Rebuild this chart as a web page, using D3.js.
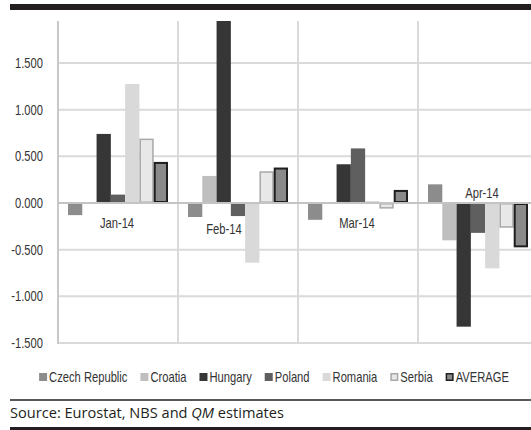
<!DOCTYPE html>
<html>
<head>
<meta charset="utf-8">
<script src="https://cdn.jsdelivr.net/npm/d3@7"></script>
<style>
  html, body { margin: 0; padding: 0; background: #fff; }
  svg { display: block; }
</style>
</head>
<body>
<svg id="chart" width="531" height="430"></svg>
<script>
const categories = ["Jan-14", "Feb-14", "Mar-14", "Apr-14"];
const seriesNames = ["Czech Republic", "Croatia", "Hungary", "Poland", "Romania", "Serbia", "AVERAGE"];
const czech   = [-0.13, -0.15, -0.18, 0.20];
const croatia = [0.00, 0.29, 0.00, -0.40];
const hungary = [0.74, 2.05, 0.415, -1.325];
const poland  = [0.09, -0.14, 0.585, -0.32];
const romania = [1.275, -0.64, 0.02, -0.70];
const serbia  = [0.69, 0.34, -0.06, -0.265];
const average = [0.44, 0.38, 0.14, -0.475];
const yTicks = [-1.5, -1.0, -0.5, 0.0, 0.5, 1.0, 1.5];
const sourceText = ["Source: Eurostat, NBS and ", "QM", " estimates"];

const seriesValues = [czech, croatia, hungary, poland, romania, serbia, average];
const fills   = ["#8c8c8c", "#bfbfbf", "#363636", "#5f5f5f", "#d9d9d9", "#e8e8e8", "#8a8a8a"];
const strokes = [null, null, null, null, null, "#a8a8a8", "#1e1e1e"];
const strokeW = [0, 0, 0, 0, 0, 1.5, 2];

const svg = d3.select("#chart");
const font = "'Liberation Sans', Arial, sans-serif";
const SX = 0.8;   // horizontal condensing of the label font
const FS = 14;

const plot = { left: 58, right: 538, top: 21, bottom: 343 };

const x0 = d3.scaleBand().domain(categories).range([plot.left, plot.right]).padding(0);
const x1 = d3.scaleBand().domain(seriesNames).range([10, x0.bandwidth() - 10]).padding(0);
const y = d3.scaleLinear().domain([-1.5, 1.95]).range([plot.bottom, plot.top]);

// top black band
svg.append("rect").attr("x", 10).attr("y", 4).attr("width", 531).attr("height", 6).attr("fill", "#231f20");

// clip
svg.append("defs").append("clipPath").attr("id", "clip")
  .append("rect").attr("x", plot.left).attr("y", plot.top)
  .attr("width", plot.right - plot.left).attr("height", plot.bottom - plot.top);

// horizontal gridlines
svg.append("g").selectAll("line").data(yTicks.filter(d => d !== 0)).join("line")
  .attr("x1", plot.left).attr("x2", plot.right)
  .attr("y1", d => y(d)).attr("y2", d => y(d))
  .attr("stroke", "#dadada").attr("stroke-width", 2);

// vertical category separators
svg.append("g").selectAll("line").data(categories.slice(1)).join("line")
  .attr("x1", d => x0(d)).attr("x2", d => x0(d))
  .attr("y1", plot.top).attr("y2", plot.bottom)
  .attr("stroke", "#dadada").attr("stroke-width", 2);

// left axis line
svg.append("line").attr("x1", plot.left).attr("x2", plot.left)
  .attr("y1", plot.top).attr("y2", plot.bottom + 1)
  .attr("stroke", "#c8c8c8").attr("stroke-width", 2);

// bars
const barsG = svg.append("g").attr("clip-path", "url(#clip)");
seriesNames.forEach((name, si) => {
  const sw = strokeW[si];
  barsG.append("g").selectAll("rect")
    .data(categories.map((c, ci) => ({ c, v: seriesValues[si][ci] })))
    .join("rect")
    .attr("x", d => x0(d.c) + x1(name) + sw / 2)
    .attr("width", x1.bandwidth() - sw)
    .attr("y", d => Math.min(y(d.v), y(0)) + sw / 2)
    .attr("height", d => Math.max(0, Math.abs(y(d.v) - y(0)) - sw))
    .attr("fill", fills[si])
    .attr("stroke", strokes[si] || "none")
    .attr("stroke-width", sw);
});

// zero line
svg.append("line").attr("x1", plot.left).attr("x2", plot.right)
  .attr("y1", y(0)).attr("y2", y(0))
  .attr("stroke", "#c4c4c4").attr("stroke-width", 2);

// condensed text groups
const cond = () => svg.append("g").attr("transform", `scale(${SX},1)`);

// y axis labels
const fmt = d => d3.format(".3f")(d).replace("−", "-");
cond().selectAll("text").data(yTicks).join("text")
  .attr("x", 43 / SX).attr("y", d => y(d)).attr("dy", "0.35em")
  .attr("text-anchor", "end")
  .attr("font-family", font).attr("font-size", FS).attr("fill", "#333")
  .text(fmt);

// category labels (placed near the zero line, as in the original)
const labelDx = [-1, -14, -1, 4];
const labelDy = [20, 26, 20, -10];
cond().selectAll("text").data(categories).join("text")
  .attr("x", (d, i) => (x0(d) + x0.bandwidth() / 2 + labelDx[i]) / SX)
  .attr("y", (d, i) => y(0) + labelDy[i]).attr("dy", "0.35em")
  .attr("text-anchor", "middle")
  .attr("font-family", font).attr("font-size", FS).attr("fill", "#333")
  .text(d => d);

// legend
const legendOuter = svg.append("g");
const legend = legendOuter.append("g");
const GAP = 13;
let lx = 0;
const ly = 377;
seriesNames.forEach((name, si) => {
  const sw = strokeW[si] ? Math.min(strokeW[si], 1.5) : 0;
  legend.append("rect")
    .attr("x", lx + sw / 2).attr("y", ly - 4 + sw / 2)
    .attr("width", 8 - sw).attr("height", 8 - sw)
    .attr("fill", fills[si])
    .attr("stroke", strokes[si] || "none").attr("stroke-width", sw);
  const t = legend.append("text")
    .attr("transform", `translate(${lx + 10},${ly}) scale(${SX},1)`)
    .attr("dy", "0.35em")
    .attr("font-family", font).attr("font-size", FS).attr("fill", "#333")
    .text(name);
  lx += 10 + t.node().getComputedTextLength() * SX + GAP;
});
const legendW = lx - GAP;
legendOuter.attr("transform", `translate(${274 - legendW / 2},0)`);

// rule under legend
svg.append("line").attr("x1", 10).attr("x2", 531).attr("y1", 400).attr("y2", 400)
  .attr("stroke", "#231f20").attr("stroke-width", 1.5);

// source
const src = svg.append("text").attr("x", 10).attr("y", 413).attr("dy", "0.35em")
  .attr("font-family", "'Open Sans', 'Noto Sans', sans-serif").attr("font-size", 14.6).attr("fill", "#231f20");
src.append("tspan").text(sourceText[0]);
src.append("tspan").attr("font-style", "italic").text(sourceText[1]);
src.append("tspan").text(sourceText[2]);

// bottom rule
svg.append("rect").attr("x", 10).attr("y", 427).attr("width", 531).attr("height", 3).attr("fill", "#231f20");
</script>
</body>
</html>
